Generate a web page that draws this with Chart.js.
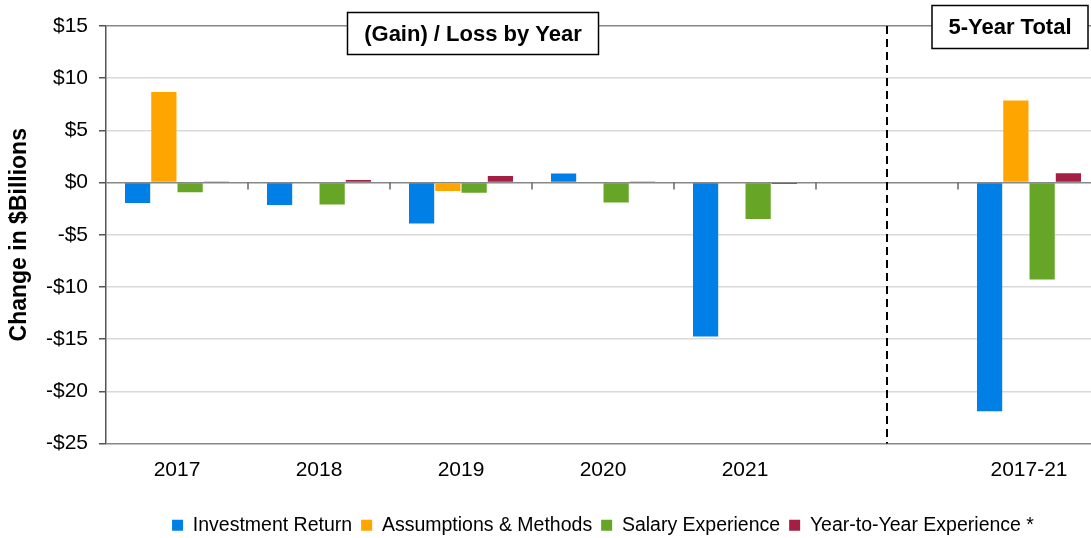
<!DOCTYPE html>
<html>
<head>
<meta charset="utf-8">
<script src="https://cdn.jsdelivr.net/npm/chart.js@4"></script>
<style>
  html, body { margin: 0; padding: 0; background: #fff; overflow: hidden; width: 1091px; height: 538px; }
  #wrap { position: relative; width: 1100px; height: 545px; }
</style>
</head>
<body>
<div id="wrap"><canvas id="chart"></canvas></div>
<script>
// categories (index 5 is the empty gap before the 5-year total)
const years = ['2017', '2018', '2019', '2020', '2021', '', '2017-21'];

// $ billions, (gain) / loss
const investmentReturn = [-1.97, -2.16, -3.93, 0.88, -14.76, null, -21.9];
const assumptionsMethods = [8.67, 0, -0.82, 0, 0, null, 7.87];
const salaryExperience = [-0.93, -2.1, -0.98, -1.9, -3.48, null, -9.28];
const yearToYear = [0.1, 0.24, 0.63, 0.06, -0.13, null, 0.9];

const seriesNames = ['Investment Return', 'Assumptions & Methods', 'Salary Experience', 'Year-to-Year Experience *'];
const seriesColors = ['#0080e6', '#ffa500', '#66a526', '#a31f44'];

const yTicks = [15, 10, 5, 0, -5, -10, -15, -20, -25];

function money(v) {
    return (v < 0 ? '-$' : '$') + Math.abs(v);
}

// --- draws the zero-line ticks, the dashed divider and the two header boxes
const extras = {
    id: 'extras',
    afterDatasetsDraw(chart) {
        const ctx = chart.ctx;
        const x = chart.scales.x;
        const y = chart.scales.y;
        const area = chart.chartArea;
        const zero = y.getPixelForValue(0);

        ctx.save();
        // little ticks under the zero line between categories
        ctx.strokeStyle = '#666';
        ctx.lineWidth = 1.5;
        for (let i = 0; i < years.length - 1; i++) {
            const bx = (x.getPixelForValue(i) + x.getPixelForValue(i + 1)) / 2;
            ctx.beginPath();
            ctx.moveTo(bx, zero);
            ctx.lineTo(bx, zero + 7);
            ctx.stroke();
        }

        // dashed divider in the empty category
        const dx = x.getPixelForValue(5);
        ctx.strokeStyle = '#000';
        ctx.lineWidth = 2;
        ctx.setLineDash([8, 5]);
        ctx.beginPath();
        ctx.moveTo(dx, area.top);
        ctx.lineTo(dx, area.bottom);
        ctx.stroke();
        ctx.setLineDash([]);

        drawBox(ctx, '(Gain) / Loss by Year', 347.5, 12.5, 251, 42);
        drawBox(ctx, '5-Year Total', 932, 5.5, 156, 43);
        ctx.restore();
    }
};

function drawBox(ctx, text, left, top, w, h) {
    ctx.fillStyle = '#fff';
    ctx.fillRect(left, top, w, h);
    ctx.strokeStyle = '#000';
    ctx.lineWidth = 1.5;
    ctx.strokeRect(left, top, w, h);
    ctx.fillStyle = '#000';
    ctx.font = 'bold 22px "Liberation Sans", Arial, sans-serif';
    ctx.textAlign = 'center';
    ctx.textBaseline = 'middle';
    ctx.fillText(text, left + w / 2, top + h / 2 + 1);
}

const datasets = [investmentReturn, assumptionsMethods, salaryExperience, yearToYear].map((d, i) => ({
    label: seriesNames[i],
    data: d,
    backgroundColor: seriesColors[i],
    borderWidth: 0,
    categoryPercentage: 0.74,
    barPercentage: 0.96
}));

Chart.defaults.font.family = '"Liberation Sans", Arial, sans-serif';
Chart.defaults.color = '#000';

new Chart(document.getElementById('chart'), {
    type: 'bar',
    data: { labels: years, datasets: datasets },
    options: {
        responsive: true,
        maintainAspectRatio: false,
        animation: false,
        layout: { padding: { top: 26, left: 0, right: 0, bottom: 0 } },
        plugins: {
            legend: {
                position: 'bottom',
                fullSize: false,
                labels: {
                    boxWidth: 11,
                    boxHeight: 11,
                    padding: 9,
                    font: { size: 19.5 },
                    color: '#000'
                }
            },
            tooltip: { enabled: false }
        },
        scales: {
            x: {
                grid: { display: false, drawTicks: false },
                border: { display: false },
                ticks: { font: { size: 21 }, padding: 14, maxRotation: 0 },
                afterFit: s => { s.height = 63; }
            },
            y: {
                min: -25,
                max: 15,
                afterBuildTicks: s => { s.ticks = yTicks.map(v => ({ value: v })); },
                afterFit: s => { s.width = 106; },
                ticks: {
                    font: { size: 21 },
                    padding: 11,
                    callback: v => money(v)
                },
                grid: {
                    tickLength: 7,
                    lineWidth: 1.5,
                    tickColor: '#555',
                    color: c => (c.tick.value === 0 || c.tick.value === 15 || c.tick.value === -25) ? '#888' : '#d9d9d9'
                },
                border: { color: '#555', width: 1.5 },
                title: {
                    display: true,
                    text: 'Change in $Billions',
                    font: { size: 23, weight: 'bold' },
                    padding: { top: 6, bottom: 0 }
                }
            }
        }
    },
    plugins: [extras]
});
</script>
</body>
</html>
